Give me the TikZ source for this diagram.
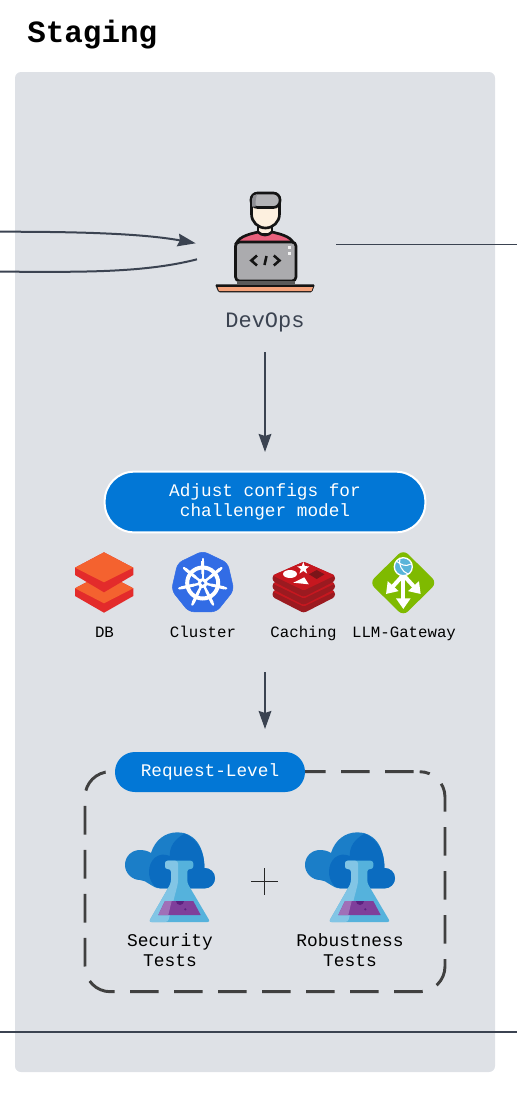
\documentclass[tikz,border=0pt]{standalone}
\usepackage{fontspec}
\setmainfont{Liberation Mono}
\usetikzlibrary{arrows.meta}
\definecolor{panelgrey}{HTML}{DEE1E6}
\definecolor{linedark}{HTML}{3B4351}
\definecolor{pillblue}{HTML}{0277D6}
\definecolor{cloudlight}{HTML}{1B7EC8}
\definecolor{clouddark}{HTML}{0B6CC0}
\definecolor{flasklight}{HTML}{82C5E5}
\definecolor{flaskmid}{HTML}{55B2DC}
\definecolor{liquidlight}{HTML}{A070B8}
\definecolor{liquidmid}{HTML}{7F3F9B}
\definecolor{liquiddark}{HTML}{5C2080}
\definecolor{outlinedark}{HTML}{141414}
\definecolor{capgrey}{HTML}{B3B3B6}
\definecolor{capdark}{HTML}{8F8F94}
\definecolor{facecream}{HTML}{FDF0DF}
\definecolor{shirtpink}{HTML}{E8607C}
\definecolor{laptopgrey}{HTML}{ABABAE}
\definecolor{tablesalmon}{HTML}{F4A27A}
\definecolor{dborange}{HTML}{F4622F}
\definecolor{dbred}{HTML}{E32B2B}
\definecolor{kubeblue}{HTML}{326CE5}
\definecolor{redistop}{HTML}{C6171F}
\definecolor{redisside}{HTML}{9B1A20}
\definecolor{gatewaygreen}{HTML}{7FBA00}
\definecolor{globeblue}{HTML}{59B4D9}
\tikzset{
    flowline/.style={draw=linedark,line width=1.5pt,-{Stealth[length=13.5pt,width=9.5pt,inset=1.5pt]}},
    plainline/.style={draw=linedark,line width=1.2pt},
    pill/.style={fill=pillblue,text=white,font=\fontsize{13.3}{15}\selectfont,align=center},
    iconlabel/.style={text=black,font=\fontsize{11.8}{14}\selectfont,text height=9pt,text depth=2.5pt},
    testlabel/.style={text=black,font=\fontsize{13.4}{15.4}\selectfont,align=center},
    testicon/.pic={
        \fill[cloudlight] (30,60) .. controls (22,60) and (15,53) .. (15,45)
            .. controls (15,36) and (22,30) .. (30,30)
            .. controls (34,30) and (38,31) .. (41,33)
            .. controls (45,20) and (55,12.3) .. (67.7,12.3)
            .. controls (83,12.3) and (94.5,25) .. (94.4,48)
            .. controls (100,48) and (105,52) .. (105,58.3)
            .. controls (105,64) and (100,68.3) .. (95,68.3)
            -- (50,68.3) .. controls (42,68.3) and (37,60) .. (30,60) -- cycle;
        \fill[clouddark] (75,13.5) .. controls (64,19) and (59,28) .. (60,36)
            .. controls (48,31) and (39,40) .. (39,52)
            .. controls (39,60) and (44,68.3) .. (50,68.3)
            -- (95,68.3) .. controls (100,68.3) and (105,64) .. (105,58.3)
            .. controls (105,52) and (100,48) .. (94.4,48)
            .. controls (94.5,32) and (88,20) .. (75,13.5) -- cycle;
        \fill[flaskmid,rounded corners=2pt] (55,40.7) -- (83.3,40.7) -- (83.3,49) -- (77.3,49)
            -- (77.3,63) -- (100.3,102) -- (38.7,102) -- (61,63) -- (61,49) -- (55,49) -- cycle;
        \fill[flasklight,rounded corners=2pt] (55,40.7) -- (68,40.7) -- (68,63) -- (58,102)
            -- (38.7,102) -- (61,63) -- (61,49) -- (55,49) -- cycle;
        \fill[liquidmid] (55,81) -- (83.3,81) -- (90.7,95) -- (48.3,95) -- cycle;
        \fill[liquidlight] (55,81) -- (61.7,81) -- (58.3,95) -- (48.3,95) -- cycle;
        \fill[liquiddark] (66,81) arc[start angle=180,end angle=0,radius=4] -- cycle;
        \fill[liquiddark] (75.3,89.3) circle (1.2);
    }
}
\begin{document}
\begin{tikzpicture}[x=0.75pt,y=-0.75pt]
    \useasboundingbox (0,0) rectangle (517,1093);
    \fill[panelgrey,rounded corners=4.5pt] (15,72) rectangle (495,1072);
    \node[anchor=west,font=\fontsize{23.2}{26}\selectfont\bfseries] (title) at (22.6,35) {Staging};

    % named points
    \coordinate (inupper) at (0,231.7);
    \coordinate (intip) at (195.7,243.3);
    \coordinate (outlower) at (197,259.3);
    \coordinate (outend) at (0,271.7);
    \coordinate (rightstart) at (336,244.5);
    \coordinate (rightend) at (517,244.5);
    \coordinate (bottomstart) at (0,1032);
    \coordinate (bottomend) at (517,1032);
    \coordinate (devstart) at (265,352);
    \coordinate (devend) at (265,452);
    \coordinate (rowstart) at (265,672);
    \coordinate (rowend) at (265,729);

    \draw[flowline] (inupper) .. controls (70,231.7) and (140,233) .. (intip);
    \draw[plainline,line width=1.5pt] (outlower) .. controls (140,274) and (70,271.7) .. (outend);
    \draw[plainline] (rightstart) -- (rightend);
    \draw[plainline,line width=1.5pt] (bottomstart) -- (bottomend);
    \draw[flowline] (devstart) -- (devend);
    \draw[flowline] (rowstart) -- (rowend);

    % developer
    \fill[outlinedark,rounded corners=1pt] (215,284.3) -- (315,284.3) -- (312,292.3) -- (218.5,292.3) -- cycle;
    \fill[tablesalmon] (217.5,287) -- (313,287) -- (311.5,291) -- (219,291) -- cycle;
    \fill[facecream,draw=outlinedark,line width=2pt] (258,224) -- (258,234) -- (272,234) -- (272,224) -- cycle;
    \fill[shirtpink,draw=outlinedark,line width=2pt] (236.5,243) .. controls (240,236) and (250,234) .. (258,232)
        .. controls (262,236) and (268,236) .. (272,232)
        .. controls (280,234) and (290,236) .. (293.5,243) -- cycle;
    \fill[facecream,draw=outlinedark,line width=2pt] (251.5,205) -- (251.5,214) .. controls (251.5,222) and (258,228) .. (265.5,228)
        .. controls (273,228) and (279.5,222) .. (279.5,214) -- (279.5,205) -- cycle;
    \fill[capgrey,draw=outlinedark,line width=2pt,rounded corners=5pt] (251,207.5) -- (251,193) -- (280,193) -- (280,207.5) -- cycle;
    \fill[capdark] (252.2,206.5) -- (252.2,199) .. controls (252.2,196) and (254,194.2) .. (257,194.2) .. controls (256,197) and (255.5,200) .. (255.5,206.5) -- cycle;
    \fill[laptopgrey,draw=outlinedark,line width=2pt,rounded corners=3pt] (235.5,242) rectangle (296,281);
    \fill[white!85!laptopgrey] (287.5,245.5) rectangle (290.5,249);
    \fill[white!85!laptopgrey] (287.5,251.5) rectangle (290.5,255);
    \draw[outlinedark,line width=1.9pt] (257,255.5) -- (251.3,260.5) -- (257,265.5);
    \draw[outlinedark,line width=1.9pt] (266.5,256) -- (264.5,265);
    \draw[outlinedark,line width=1.9pt] (273.8,255.5) -- (279.5,260.5) -- (273.8,265.5);
    \fill[black!65] (236.5,281) rectangle (295,284.5);
    \node[text=linedark,font=\fontsize{16.5}{20}\selectfont] (devops) at (265,322.5) {DevOps};

    \node[pill,draw=white,line width=1.5pt,rounded corners=22pt,minimum width=240.5pt,minimum height=45.5pt,inner sep=0pt] (adjust) at (265,502) {Adjust configs for\\challenger model};

    % database
    \fill[dbred] (75,588.3) -- (104,573) -- (133.3,588.3) -- (133.3,596) -- (104,612.7) -- (75,596) -- cycle;
    \fill[dborange] (75,588.3) -- (104,573) -- (133.3,588.3) -- (104,603.3) -- cycle;
    \fill[dbred] (75,567.7) -- (104,552.3) -- (133.3,567.7) -- (133.3,575) -- (104,592.3) -- (75,575) -- cycle;
    \fill[dborange] (75,567.7) -- (104,552.3) -- (133.3,567.7) -- (104,582.3) -- cycle;
    \node[iconlabel] (db) at (104.5,632.7) {DB};

    % cluster
    \begin{scope}[shift={(202.7,583)}]
        \fill[kubeblue,rounded corners=4pt,draw=kubeblue] (-90:32) \foreach \a in {1,...,6}{ -- ({-90+\a*360/7}:32)} -- cycle;
        \draw[white,line width=3pt] (0,0) circle (15.5);
        \foreach \a in {0,...,6}{
            \draw[white,line width=1.8pt,line cap=round] (0,0) -- ({-90+\a*360/7}:24);
            \fill[white] ({-90+\a*360/7-9}:9) -- ({-90+\a*360/7+9}:9) -- ({-90+\a*360/7+4}:22) -- ({-90+\a*360/7-4}:22) -- cycle;
        }
        \fill[white] (0,0) circle (5);
        \fill[kubeblue] (0,0) circle (1.8);
    \end{scope}
    \node[iconlabel] (cluster) at (203,632.7) {Cluster};

    % caching
    \foreach \d in {16,8,0}{
        \fill[redisside,rounded corners=2pt] (272.5,575.5+\d) -- (303.7,561.7+\d) -- (335,575.5+\d) -- (335,581+\d) -- (303.7,597+\d) -- (272.5,581+\d) -- cycle;
        \fill[redistop,rounded corners=1pt] (272.5,575.5+\d) -- (303.7,561.7+\d) -- (335,575.5+\d) -- (303.7,590.5+\d) -- cycle;
    }
    \begin{scope}[shift={(303.3,568.3)}]
        \fill[white] (-90:6.5) \foreach \a in {1,...,9}{ -- ({-90+\a*36}:{mod(\a,2)==1?2.6:6.5})} -- cycle;
    \end{scope}
    \fill[white] (290,574) ellipse (7 and 4);
    \fill[white] (293.3,582.7) -- (304.3,577.3) -- (308.7,584.3) -- cycle;
    \fill[redisside!80!black] (309,574.3) -- (316.7,570) -- (324.5,574.3) -- (316.7,579) -- cycle;
    \node[iconlabel] (caching) at (303.5,632.7) {Caching};

    % gateway
    \fill[gatewaygreen,rounded corners=5pt] (403.3,549.5) -- (437,582.7) -- (403.3,616) -- (369.5,582.7) -- cycle;
    \foreach \tipx/\tipy in {386/594,420.7/594,403.3/609}{
        \draw[white,line width=3pt,-{Triangle[length=8pt,width=10.5pt]}] (403.3,575) -- (\tipx,\tipy);
    }
    \fill[globeblue,draw=white,line width=1pt] (403.3,566.7) circle (9);
    \draw[white,line width=0.8pt] (396,561) .. controls (402,565) and (405,567) .. (411,564);
    \draw[white,line width=0.8pt] (400,558) .. controls (398,564) and (402,572) .. (408,574);
    \node[iconlabel] (gateway) at (404,632.7) {LLM-Gateway};

    % tests
    \node[draw=black!75,line width=2.2pt,dash pattern=on 21.4pt off 11.6pt,dash phase=28.5pt,rounded corners=19pt,minimum width=270pt,minimum height=165pt,inner sep=0pt] (testbox) at (265,881.7) {};
    \node[pill,rounded corners=14.9pt,minimum width=142.5pt,minimum height=30pt,inner sep=0pt] (request) at (210,772) {Request-Level};
    \pic at (110,820) {testicon};
    \pic at (290,820) {testicon};
    \node[testlabel] (security) at (170,950.2) {Security\\Tests};
    \node[testlabel] (robust) at (350,950.2) {Robustness\\Tests};
    \draw[black!85,line width=0.9pt] (251,881.5) -- (278,881.5);
    \draw[black!85,line width=0.9pt] (264.5,868) -- (264.5,895);
\end{tikzpicture}
\end{document}
